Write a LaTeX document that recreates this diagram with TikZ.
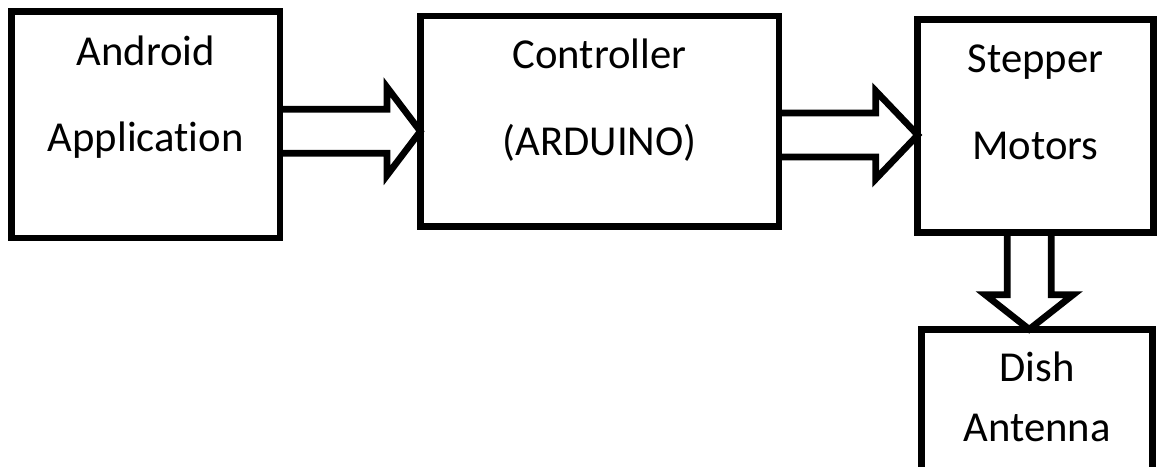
\documentclass[tikz,border=0pt]{standalone}
\usepackage{fontspec}
\setmainfont{Carlito}[Ligatures=NoCommon]
\usetikzlibrary{positioning, calc}

% hollow block arrow: start, tip, head length
\newcommand{\blockarrow}[3]{%
    \coordinate (hb) at ($(#2)!#3!(#1)$);
    \draw[fat] ($(#1)!16.5pt!90:(#2)$) -- ($(hb)!16.5pt!90:(#2)$) -- ($(hb)!33pt!90:(#2)$)
        -- (#2) -- ($(hb)!33pt!-90:(#2)$) -- ($(hb)!16.5pt!-90:(#2)$) -- ($(#1)!16.5pt!-90:(#2)$);
}

\begin{document}
\begin{tikzpicture}[
    x=0.75pt, y=-0.75pt,
    block/.style={draw, rectangle, line width=5pt, outer sep=0pt, inner sep=0pt},
    fat/.style={line width=5pt},
    txt/.style={font=\fontsize{32}{38}\selectfont, inner sep=0pt, anchor=base}
]
    \useasboundingbox (0,0) rectangle (1157,467);
    \fill[white] (0,0) rectangle (1157,467);
    \clip (0,0) rectangle (1157,467);

    \node[block, minimum width=201.2pt, minimum height=169.7pt] (app) at (145.8,124.9) {};
    \node[block, minimum width=269pt, minimum height=158pt] (ctrl) at (599.7,121.3) {};
    \node[block, minimum width=176.6pt, minimum height=159.7pt] (step) at (1035.5,125.8) {};
    \node[block, minimum width=173.3pt, minimum height=150pt, below=72.8pt of step, xshift=1.3pt] (dish) {};

    \node[txt] (app1) at ([yshift=-40pt]app.north) {Android};
    \node[txt] (app2) at ([yshift=-104.5pt]app.north) {Application};
    \node[txt] (ctrl1) at ([yshift=-39.5pt]ctrl.north) {Controller};
    \node[txt] (ctrl2) at ([yshift=-104.5pt]ctrl.north) {(ARDUINO)};
    \node[txt] (step1) at ([yshift=-40pt]step.north) {Stepper};
    \node[txt] (step2) at ([yshift=-105pt]step.north) {Motors};
    \node[txt] (dish1) at ([yshift=-39.3pt]dish.north) {Dish};
    \node[txt] (dish2) at ([yshift=-84.3pt]dish.north) {Antenna};

    % arrow axes
    \coordinate (ax1) at (0,131.3);
    \coordinate (ax2) at (0,135);
    \coordinate (ax3) at (1029.2,0);

    \blockarrow{app.east |- ax1}{ctrl.west |- ax1}{25pt}
    \blockarrow{ctrl.east |- ax2}{step.west |- ax2}{31.5pt}
    \blockarrow{step.south -| ax3}{dish.north -| ax3}{26pt}
\end{tikzpicture}
\end{document}
